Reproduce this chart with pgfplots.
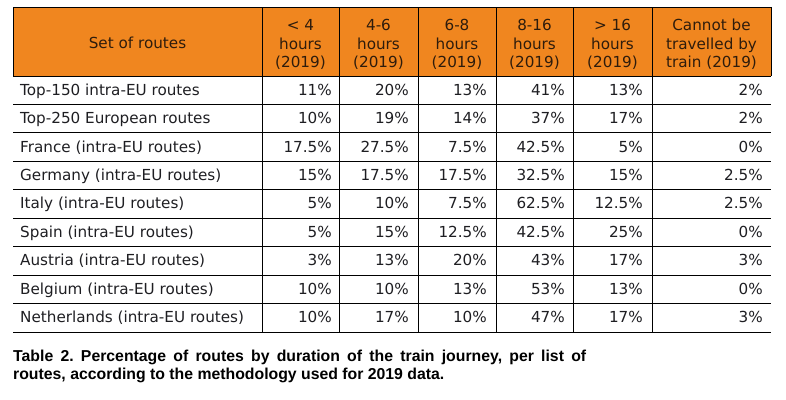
\documentclass[border=0pt]{standalone}
\usepackage{pgfplots}
\pgfplotsset{compat=1.18}
\usepackage{pgfplotstable}
\usepackage{fontspec}
\setmainfont{DejaVu Sans}
\newfontfamily\capfont{Liberation Sans}
\definecolor{hdr}{HTML}{F0861F}
\definecolor{hdrtxt}{HTML}{2E1C0C}
\definecolor{txt}{HTML}{1E1E22}
\frenchspacing

\pgfplotstableread[col sep=comma]{
name,lt4,h46,h68,h816,gt16,no
Top-150 intra-EU routes,11,20,13,41,13,2
Top-250 European routes,10,19,14,37,17,2
France (intra-EU routes),17.5,27.5,7.5,42.5,5,0
Germany (intra-EU routes),15,17.5,17.5,32.5,15,2.5
Italy (intra-EU routes),5,10,7.5,62.5,12.5,2.5
Spain (intra-EU routes),5,15,12.5,42.5,25,0
Austria (intra-EU routes),3,13,20,43,17,3
Belgium (intra-EU routes),10,10,13,53,13,0
Netherlands (intra-EU routes),10,17,10,47,17,3
}\routes

\begin{document}
\begin{tikzpicture}
\begin{axis}[
  width=786bp, height=400bp, scale only axis,
  xmin=0, xmax=786, ymin=0, ymax=400, y dir=reverse,
  hide axis, clip=false,
  every node near coord/.append style={font=\fontsize{15.2bp}{18bp}\selectfont, text=txt, inner sep=0pt, anchor=base east},
  nodes near coords={\pgfplotspointmeta\%},
  point meta=explicit symbolic,
]
\path (axis cs:0,0) rectangle (axis cs:786,400);
% header fill
\fill[hdr] (axis cs:13,7) rectangle (axis cs:771,76);
% horizontal rules
\draw[black, line width=0.9pt] (axis cs:13,7) -- (axis cs:771,7);
\draw[black, line width=0.9pt] (axis cs:13,76) -- (axis cs:771,76);
\draw[black, line width=0.9pt] (axis cs:13,104.4) -- (axis cs:771,104.4);
\draw[black, line width=0.9pt] (axis cs:13,132.9) -- (axis cs:771,132.9);
\draw[black, line width=0.9pt] (axis cs:13,161.3) -- (axis cs:771,161.3);
\draw[black, line width=0.9pt] (axis cs:13,189.8) -- (axis cs:771,189.8);
\draw[black, line width=0.9pt] (axis cs:13,218.2) -- (axis cs:771,218.2);
\draw[black, line width=0.9pt] (axis cs:13,246.6) -- (axis cs:771,246.6);
\draw[black, line width=0.9pt] (axis cs:13,275.1) -- (axis cs:771,275.1);
\draw[black, line width=0.9pt] (axis cs:13,303.5) -- (axis cs:771,303.5);
\draw[black, line width=0.9pt] (axis cs:13,332) -- (axis cs:771,332);
% vertical rules
\draw[black, line width=0.9pt] (axis cs:13,7) -- (axis cs:13,76);
\draw[black, line width=0.9pt] (axis cs:771,7) -- (axis cs:771,76);
\draw[black, line width=0.9pt] (axis cs:262,7) -- (axis cs:262,332);
\draw[black, line width=0.9pt] (axis cs:339,7) -- (axis cs:339,332);
\draw[black, line width=0.9pt] (axis cs:418,7) -- (axis cs:418,332);
\draw[black, line width=0.9pt] (axis cs:496,7) -- (axis cs:496,332);
\draw[black, line width=0.9pt] (axis cs:573,7) -- (axis cs:573,332);
\draw[black, line width=0.9pt] (axis cs:652,7) -- (axis cs:652,332);
% header text
\begin{scope}[every node/.style={font=\fontsize{15.2bp}{18.7bp}\selectfont, text=hdrtxt, align=center, inner sep=0pt}]
\node at (axis cs:137.5,43) {Set of routes};
\node at (axis cs:300.5,44.5) {< 4\\hours\\(2019)};
\node at (axis cs:378.5,44.5) {4-6\\hours\\(2019)};
\node at (axis cs:457,44.5) {6-8\\hours\\(2019)};
\node at (axis cs:534.5,44.5) {8-16\\hours\\(2019)};
\node at (axis cs:612.5,44.5) {> 16\\hours\\(2019)};
\node at (axis cs:711.5,44.5) {Cannot be\\travelled by\\train (2019)};
\end{scope}
% row labels
\addplot[draw=none, mark=none, nodes near coords={\pgfplotspointmeta},
  every node near coord/.append style={anchor=base west}]
  table[x expr=20, y expr={95.2+28.44*\coordindex}, meta=name]{\routes};
% values
\addplot[draw=none, mark=none] table[x expr=332, y expr={95.2+28.44*\coordindex}, meta=lt4]{\routes};
\addplot[draw=none, mark=none] table[x expr=409, y expr={95.2+28.44*\coordindex}, meta=h46]{\routes};
\addplot[draw=none, mark=none] table[x expr=487, y expr={95.2+28.44*\coordindex}, meta=h68]{\routes};
\addplot[draw=none, mark=none] table[x expr=565, y expr={95.2+28.44*\coordindex}, meta=h816]{\routes};
\addplot[draw=none, mark=none] table[x expr=643, y expr={95.2+28.44*\coordindex}, meta=gt16]{\routes};
\addplot[draw=none, mark=none] table[x expr=763, y expr={95.2+28.44*\coordindex}, meta=no]{\routes};
% caption
\node[anchor=base west, inner sep=0pt, text=black,
  font=\capfont\bfseries\fontsize{15.8bp}{18bp}\selectfont] at (axis cs:13,361)
  {\parbox[t]{573bp}{\frenchspacing\hyphenpenalty=10000\parfillskip=0pt plus 1fil Table 2. Percentage of routes by duration of the train journey, per list of\linebreak routes, according to the methodology used for 2019 data.}};
\end{axis}
\end{tikzpicture}
\end{document}
